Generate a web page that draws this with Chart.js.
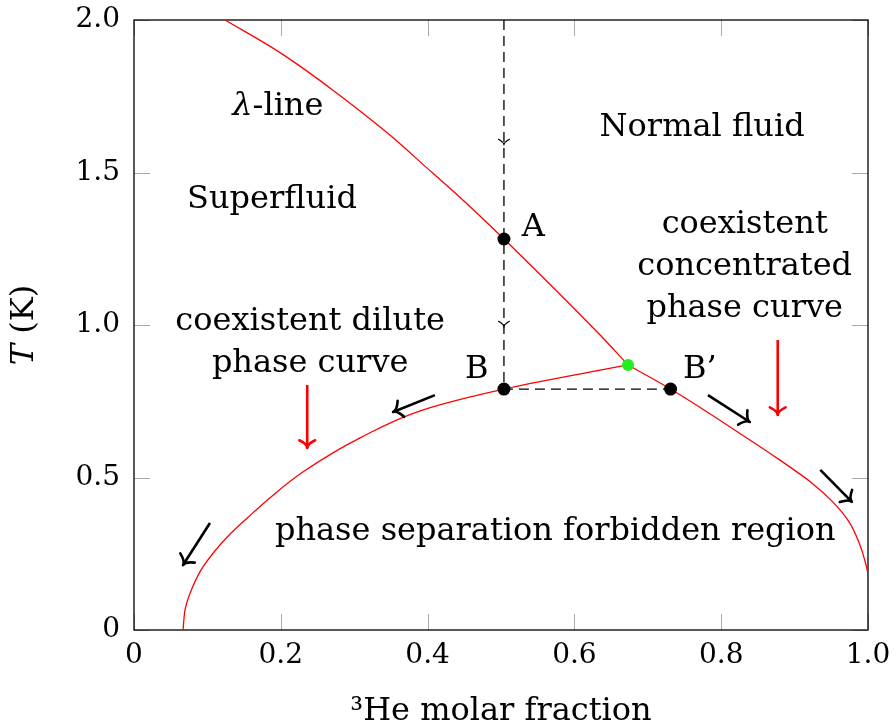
<!DOCTYPE html>
<html>
<head>
<meta charset="utf-8">
<script src="https://cdn.jsdelivr.net/npm/chart.js@4.4.1/dist/chart.umd.min.js"></script>
<style>
  html, body { margin: 0; padding: 0; background: #fff; }
</style>
</head>
<body>
<canvas id="phase-diagram" width="896" height="728"></canvas>
<script>
// lambda line, top of the plot down to the tricritical point
const lambdaX = [0.124, 0.199, 0.271, 0.345, 0.407, 0.444, 0.504, 0.635, 0.673];
const lambdaT = [2.0, 1.893, 1.770, 1.630, 1.498, 1.419, 1.282, 0.967, 0.869];

// concentrated phase curve (tricritical point -> pure 3He)
const concX = [0.673, 0.731, 0.839, 0.880, 0.923, 0.952, 0.974, 0.988, 0.996, 1.0, 1.0];
const concT = [0.869, 0.790, 0.623, 0.557, 0.483, 0.420, 0.355, 0.285, 0.225, 0.175, 0];

// dilute phase curve (tricritical point -> about 6.7 % at T = 0)
const diluteX = [0.673, 0.635, 0.504, 0.394, 0.308, 0.230, 0.185, 0.162, 0.127, 0.094, 0.080, 0.070, 0.0668];
const diluteT = [0.869, 0.852, 0.790, 0.722, 0.630, 0.518, 0.433, 0.384, 0.305, 0.207, 0.142, 0.072, 0];

// cooling path: down at x = 0.504, then across to B'
const pathX = [0.504, 0.504, 0.731];
const pathT = [2.0, 0.790, 0.790];
const pathArrowT = [1.590, 0.993];

const markerNames = ['A', 'B', 'B’'];
const markerX = [0.504, 0.504, 0.731];
const markerT = [1.282, 0.790, 0.790];
const tricriticalX = [0.673];
const tricriticalT = [0.869];

// arrows: [start, end]
const redArrowX = [[0.236, 0.236], [0.877, 0.877]];
const redArrowT = [[0.803, 0.597], [0.951, 0.705]];
const blackArrowX = [[0.410, 0.353], [0.1035, 0.0668], [0.782, 0.839], [0.935, 0.978]];
const blackArrowT = [[0.770, 0.715], [0.351, 0.213], [0.770, 0.682], [0.525, 0.420]];

const xTickLabels = ['0', '0.2', '0.4', '0.6', '0.8', '1.0'];
const yTickLabels = ['0', '0.5', '1.0', '1.5', '2.0'];

// region labels (centre of each text block)
const regionText = [['λ-line'], ['Superfluid'], ['Normal fluid'], ['coexistent dilute', 'phase curve'],
  ['coexistent', 'concentrated', 'phase curve'], ['phase separation forbidden region'], ['A'], ['B'], ['B’']];
const regionX = [0.196, 0.188, 0.774, 0.240, 0.832, 0.574, 0.544, 0.467, 0.771];
const regionT = [1.715, 1.410, 1.646, 0.943, 1.190, 0.321, 1.318, 0.852, 0.852];

const SERIF = '"DejaVu Serif", "Liberation Serif", serif';
const FS = 32;
const zip = (xs, ts) => xs.map((v, i) => ({x: v, y: ts[i]}));

// red phase-boundary curve; 'y' as index axis keeps the vertical ends vertical
function curve(xs, ts, indexAxis) {
  return {data: zip(xs, ts), showLine: true, borderColor: '#ff0000', borderWidth: 1.3,
    pointRadius: 0, cubicInterpolationMode: 'monotone', indexAxis: indexAxis, order: 5};
}
function arrow(xs, ts, color, head) {
  return {data: zip(xs, ts), showLine: true, borderColor: color, borderWidth: 2.6,
    pointRadius: 0, arrowHead: head, order: 3};
}

const datasets = [
  {data: zip(markerX, markerT), pointRadius: 6.5, backgroundColor: '#000', borderWidth: 0, order: 0},
  {data: zip(tricriticalX, tricriticalT), pointRadius: 6, backgroundColor: '#22ee22', borderWidth: 0, order: 0},
  curve(lambdaX, lambdaT, 'x'),
  curve(concX, concT, 'y'),
  curve(diluteX, diluteT, 'y'),
  {data: zip(pathX, pathT), showLine: true, borderColor: '#000', borderWidth: 1.3,
    borderDash: [10, 6], pointRadius: 0, tension: 0, order: 6},
];
redArrowX.forEach((xs, i) => datasets.push(arrow(xs, redArrowT[i], '#ff0000', 11)));
blackArrowX.forEach((xs, i) => datasets.push(arrow(xs, blackArrowT[i], '#000', 12)));

function drawHead(ctx, tipX, tipY, ang, len, spread) {
  ctx.beginPath();
  ctx.moveTo(tipX - len * Math.cos(ang - spread), tipY - len * Math.sin(ang - spread));
  ctx.quadraticCurveTo(tipX - len * 0.35 * Math.cos(ang), tipY - len * 0.35 * Math.sin(ang), tipX, tipY);
  ctx.quadraticCurveTo(tipX - len * 0.35 * Math.cos(ang), tipY - len * 0.35 * Math.sin(ang),
    tipX - len * Math.cos(ang + spread), tipY - len * Math.sin(ang + spread));
  ctx.stroke();
}

const decorations = {
  id: 'decorations',
  beforeDatasetsDraw(chart) {
    const {ctx, chartArea: a, scales: {x, y}} = chart;
    ctx.save();
    ctx.strokeStyle = '#aaaaaa';
    ctx.lineWidth = 1;
    ctx.beginPath();
    x.ticks.forEach(t => {
      const px = Math.round(x.getPixelForValue(t.value)) + 0.5;
      ctx.moveTo(px, a.bottom); ctx.lineTo(px, a.bottom - 16);
      ctx.moveTo(px, a.top); ctx.lineTo(px, a.top + 16);
    });
    y.ticks.forEach(t => {
      const py = Math.round(y.getPixelForValue(t.value)) + 0.5;
      ctx.moveTo(a.left, py); ctx.lineTo(a.left + 16, py);
      ctx.moveTo(a.right, py); ctx.lineTo(a.right - 16, py);
    });
    ctx.stroke();
    ctx.strokeStyle = '#000';
    ctx.lineWidth = 1.3;
    ctx.strokeRect(a.left, a.top, a.width, a.height);
    ctx.restore();
  },
  afterDatasetsDraw(chart) {
    const {ctx, chartArea: a, scales: {x, y}} = chart;
    ctx.save();
    ctx.lineCap = 'round';
    ctx.lineJoin = 'round';
    // heads on the arrow datasets
    chart.data.datasets.forEach((ds, i) => {
      if (!ds.arrowHead) return;
      const pts = chart.getDatasetMeta(i).data;
      const p0 = pts[pts.length - 2], p1 = pts[pts.length - 1];
      const ang = Math.atan2(p1.y - p0.y, p1.x - p0.x);
      ctx.strokeStyle = ds.borderColor;
      ctx.lineWidth = 2.6;
      drawHead(ctx, p1.x, p1.y, ang, ds.arrowHead, 0.8);
    });
    // small heads on the dashed cooling path
    ctx.strokeStyle = '#000';
    ctx.lineWidth = 1.1;
    pathArrowT.forEach(t => {
      drawHead(ctx, x.getPixelForValue(pathX[0]), y.getPixelForValue(t), Math.PI / 2, 8, 0.75);
    });

    // region labels
    ctx.fillStyle = '#000';
    ctx.textAlign = 'center';
    ctx.textBaseline = 'middle';
    const up = FS + 'px ' + SERIF, it = 'italic ' + FS + 'px ' + SERIF;
    ctx.font = up;
    regionText.forEach((lines, i) => {
      const cx = x.getPixelForValue(regionX[i]);
      const cy = y.getPixelForValue(regionT[i]);
      const lh = 42;
      lines.forEach((s, j) => {
        const ly = cy + (j - (lines.length - 1) / 2) * lh;
        if (s.startsWith('λ')) {
          // italic lambda followed by upright "-line"
          ctx.font = it;
          const w1 = ctx.measureText('λ').width;
          ctx.font = up;
          const w2 = ctx.measureText(s.slice(1)).width;
          ctx.textAlign = 'left';
          ctx.font = it;
          ctx.fillText('λ', cx - (w1 + w2) / 2, ly);
          ctx.font = up;
          ctx.fillText(s.slice(1), cx - (w1 + w2) / 2 + w1, ly);
          ctx.textAlign = 'center';
        } else {
          ctx.fillText(s, cx, ly);
        }
      });
    });

    // axis titles
    ctx.font = up;
    ctx.fillText('³He molar fraction', (a.left + a.right) / 2, 712);
    ctx.translate(25, (a.top + a.bottom) / 2);
    ctx.rotate(-Math.PI / 2);
    ctx.font = it;
    const wT = ctx.measureText('T').width;
    ctx.font = up;
    const wK = ctx.measureText(' (K)').width;
    ctx.textAlign = 'left';
    ctx.font = it;
    ctx.fillText('T', -(wT + wK) / 2, 0);
    ctx.font = up;
    ctx.fillText(' (K)', -(wT + wK) / 2 + wT, 0);
    ctx.restore();
  }
};

new Chart(document.getElementById('phase-diagram'), {
  type: 'scatter',
  data: {datasets: datasets},
  options: {
    responsive: false,
    animation: false,
    devicePixelRatio: 1,
    layout: {padding: {top: 20, right: 28, left: 0, bottom: 0}},
    plugins: {legend: {display: false}, tooltip: {enabled: false}},
    scales: {
      x: {
        type: 'linear', min: 0, max: 1,
        grid: {display: false, drawTicks: false},
        border: {display: false},
        ticks: {stepSize: 0.2, padding: 9, color: '#000', font: {family: SERIF, size: 28},
          callback: (v, i) => xTickLabels[i]},
        afterFit: s => { s.height = 98; s.paddingLeft = 0; s.paddingRight = 0; }
      },
      y: {
        type: 'linear', min: 0, max: 2,
        grid: {display: false, drawTicks: false},
        border: {display: false},
        ticks: {stepSize: 0.5, padding: 14, color: '#000', font: {family: SERIF, size: 28},
          callback: (v, i) => yTickLabels[i]},
        afterFit: s => { s.width = 134; s.paddingTop = 0; s.paddingBottom = 0; }
      }
    }
  },
  plugins: [decorations]
});
</script>
</body>
</html>
